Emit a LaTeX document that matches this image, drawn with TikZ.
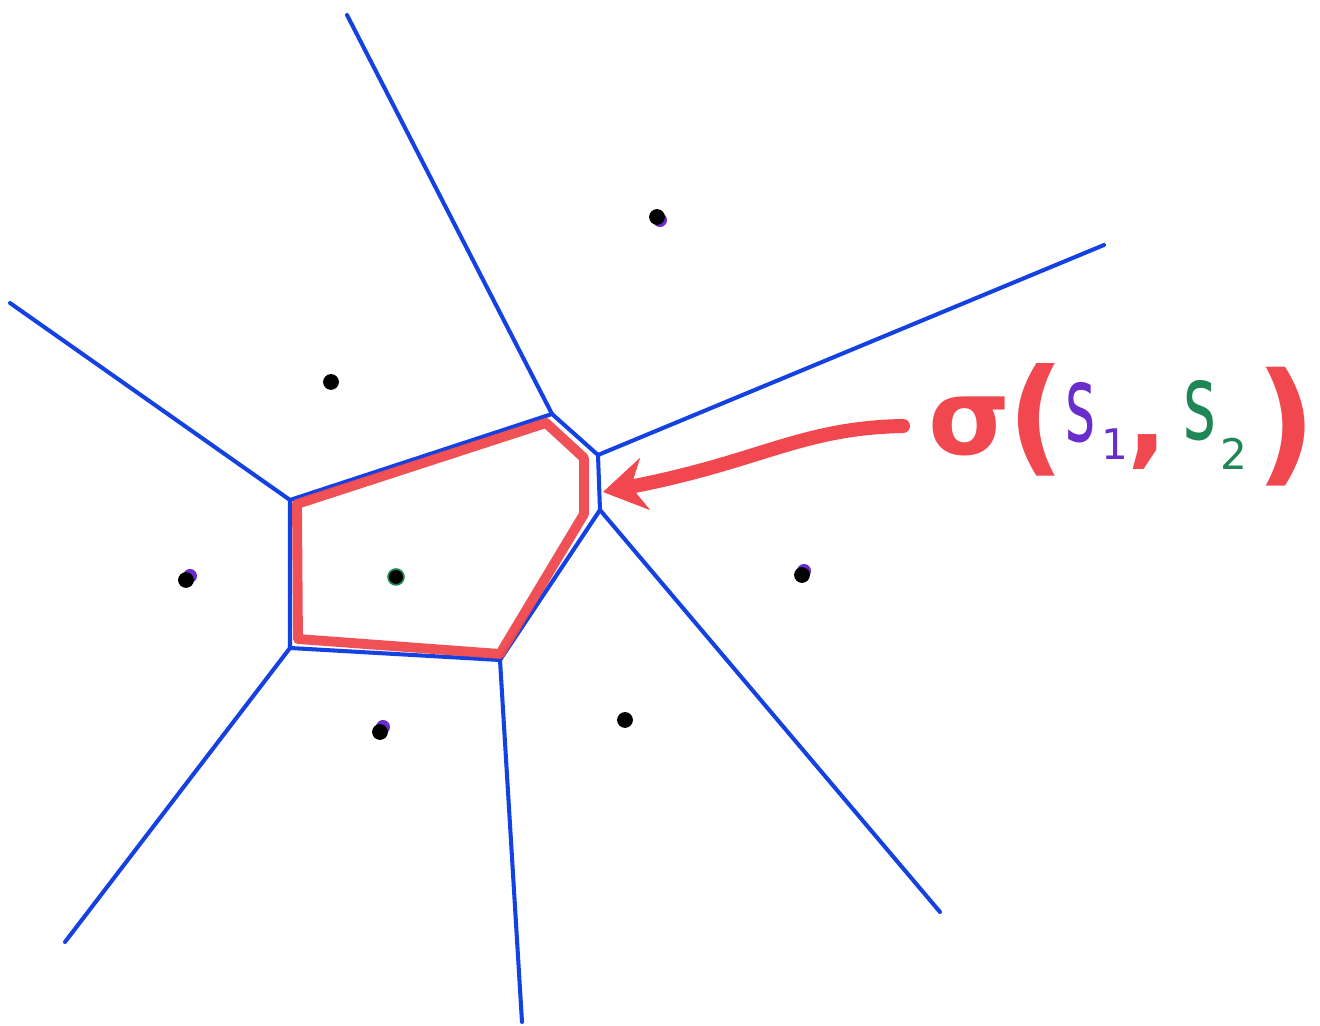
\documentclass[tikz,border=0pt]{standalone}
\usepackage{fontspec}
\setmainfont{DejaVu Sans}
\usetikzlibrary{arrows.meta}
\definecolor{vblue}{RGB}{20,65,225}
\definecolor{vred}{RGB}{240,72,78}
\definecolor{vpurple}{RGB}{105,45,205}
\definecolor{vgreen}{RGB}{30,135,85}
\tikzset{
  edge/.style={draw=vblue,line width=2.3pt,line cap=round,line join=round},
  cell/.style={draw=vred,line width=5.6pt,line join=round,opacity=0.95},
  site/.style={circle,fill=black,inner sep=0pt,minimum size=9pt},
  tint/.style={circle,fill=#1,inner sep=0pt,minimum size=8pt},
  pointer/.style={draw=vred,line width=8pt,line cap=round,-{Stealth[length=0.85cm,width=1.05cm,inset=0.28cm]}},
  glyph/.style={inner sep=0pt,outer sep=0pt},
}
\newcommand{\bigred}{\fontsize{60}{64}\selectfont\bfseries}
\newcommand{\sitefont}{\fontsize{60}{64}\selectfont}
\newcommand{\subfont}{\fontsize{24}{28}\selectfont}
\begin{document}
\begin{tikzpicture}[x=0.02cm,y=-0.02cm]
\useasboundingbox (0,0) rectangle (1320,1026);
\fill[white] (0,0) rectangle (1320,1026);
% Voronoi vertices
\coordinate (A) at (552,414);
\coordinate (B) at (598,455);
\coordinate (C) at (600,510);
\coordinate (D) at (500,660);
\coordinate (E) at (290,648);
\coordinate (F) at (290,500);
% far ends
\coordinate (Aend) at (347,15);
\coordinate (Bend) at (1104,245);
\coordinate (Cend) at (940,912);
\coordinate (Dend) at (522,1022);
\coordinate (Eend) at (65,942);
\coordinate (Fend) at (10,303);
% blue edges
\draw[edge] (F) -- (A) -- (B) -- (C) -- (D) -- (E) -- cycle;
\draw[edge] (A) -- (Aend);
\draw[edge] (B) -- (Bend);
\draw[edge] (C) -- (Cend);
\draw[edge] (D) -- (Dend);
\draw[edge] (E) -- (Eend);
\draw[edge] (F) -- (Fend);
% red cell
\coordinate (R1) at (297,504);
\coordinate (R2) at (546,423);
\coordinate (R3) at (584,458);
\coordinate (R4) at (584,514);
\coordinate (R5) at (500,654);
\coordinate (R6) at (298,639);
\draw[cell] (R1) -- (R2) -- (R3) -- (R4) -- (R5) -- (R6) -- cycle;
% sites (with marker tints)
\node[tint=vpurple] (t3) at (190,576) {};
\node[tint=vpurple] (t5) at (804,571) {};
\node[tint=vpurple] (t6) at (383,727) {};
\node[tint=vpurple] (t1) at (660,220) {};
\node[site] (s1) at (657,217) {};
\node[site] (s2) at (331,382) {};
\node[site] (s3) at (186,580) {};
\node[site,draw=vgreen,line width=1pt] (s4) at (396,577) {};
\node[site] (s5) at (802,575) {};
\node[site] (s6) at (380,732) {};
\node[site] (s7) at (625,720) {};
% label sigma(s1, s2)
\node[glyph,anchor=base,text=vred] (sig) at (970,455) {\bigred σ};
\node[glyph,anchor=center,text=vred] (lp) at (1036,420) {\fontsize{72}{76}\selectfont\bfseries (};
\node[glyph,anchor=base,text=vpurple] (sa) at (1081,442) {\scalebox{0.55}[1]{\sitefont s}};
\node[glyph,anchor=base,text=vpurple] (sa1) at (1115,460) {\subfont 1};
\node[glyph,anchor=center,text=vred] (cm) at (1148,452) {\bigred ,};
\node[glyph,anchor=base,text=vgreen] (sb) at (1200,440) {\scalebox{0.6}[1]{\sitefont s}};
\node[glyph,anchor=base,text=vgreen] (sb2) at (1234,470) {\subfont 2};
\node[glyph,anchor=center,text=vred] (rp) at (1286,427) {\fontsize{76}{80}\selectfont\bfseries )};
% arrow
\coordinate (tail) at (903,426);
\coordinate (tip) at (603,492);
\draw[pointer] (tail) .. controls (800,428) and (760,462) .. (tip);
\end{tikzpicture}
\end{document}
